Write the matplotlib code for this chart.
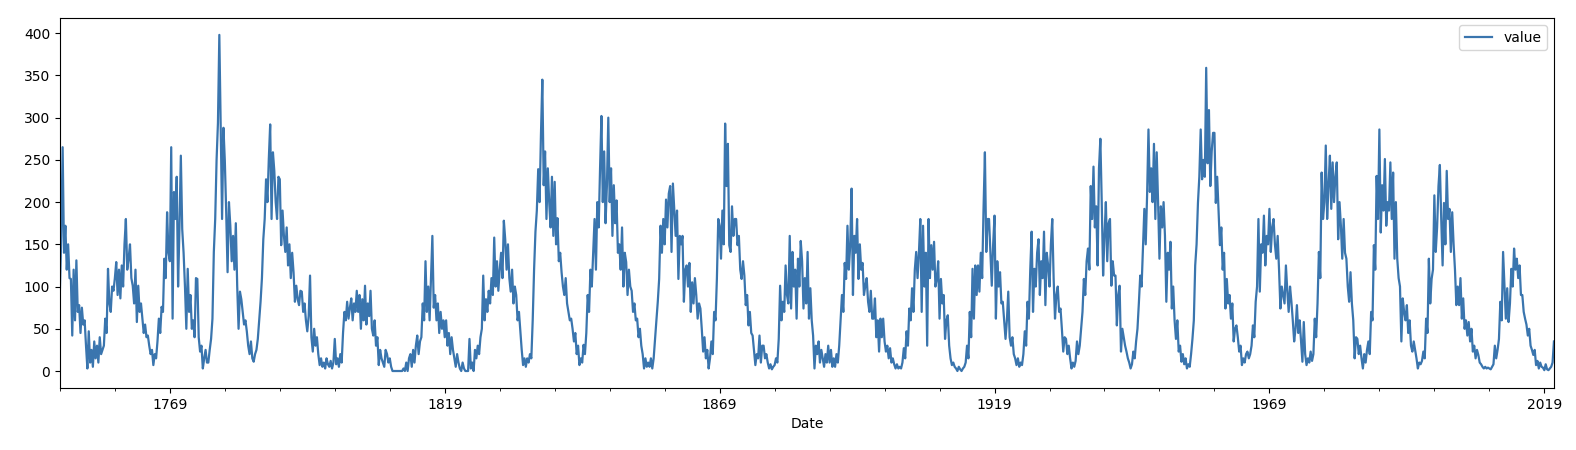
import numpy as np
import matplotlib
matplotlib.use('Agg')
import matplotlib.pyplot as plt
from matplotlib.ticker import FixedLocator

# quarterly values, one row per year (Q1..Q4)
q1749 = [
    [95, 160, 265, 140], [172, 120, 150, 110], [109, 42, 120, 60], [131, 70, 78, 45],
    [75, 55, 60, 30], [3, 47, 10, 25], [5, 35, 15, 30], [10, 40, 20, 25],
    [30, 62, 45, 121], [80, 70, 100, 95], [110, 129, 90, 120], [86, 125, 100, 150],
    [180, 120, 133, 150], [110, 101, 80, 120], [58, 101, 70, 80], [62, 45, 55, 40],
    [42, 30, 20, 25], [7, 20, 15, 35], [62, 45, 76, 70], [133, 110, 188, 140],
    [130, 265, 62, 212], [180, 230, 100, 170], [255, 168, 140, 100], [50, 121, 70, 90],
    [50, 60, 40, 110], [109, 40, 23, 30], [3, 15, 25, 10], [10, 25, 38, 62],
    [141, 180, 250, 294], [398, 286, 180, 288], [249, 188, 117, 200], [172, 130, 160, 120],
    [175, 101, 50, 94], [85, 70, 55, 60], [47, 30, 20, 35], [15, 11, 20, 25],
    [38, 60, 82, 110], [156, 180, 227, 200], [251, 292, 180, 259], [237, 200, 180, 230],
    [227, 149, 190, 160], [141, 170, 125, 150], [110, 140, 117, 82], [101, 85, 78, 95],
    [94, 70, 80, 60], [47, 65, 113, 40], [23, 50, 30, 40], [20, 7, 15, 5],
    [10, 3, 15, 8], [5, 12, 3, 10], [38, 8, 15, 5],
]
q1800 = [
    [20, 10, 45, 70], [60, 82, 62, 75], [86, 60, 80, 70], [95, 70, 90, 50],
    [85, 60, 101, 55], [80, 65, 95, 50], [42, 60, 30, 40], [7, 25, 15, 10],
    [5, 25, 20, 10], [15, 5, 0, 0], [0, 0, 0, 0], [0, 0, 3, 0],
    [10, 0, 15, 20], [5, 25, 10, 30], [42, 20, 35, 40], [80, 60, 130, 70],
    [100, 60, 110, 160], [75, 90, 60, 80], [45, 70, 50, 60], [40, 60, 30, 45],
    [20, 40, 25, 15], [5, 20, 10, 3], [0, 10, 3, 0], [0, 0, 38, 3],
    [10, 0, 25, 15], [30, 20, 40, 50], [113, 60, 85, 70], [95, 80, 110, 90],
    [158, 100, 130, 95], [120, 140, 110, 178], [156, 120, 150, 110], [94, 120, 80, 100],
    [90, 60, 70, 47], [25, 7, 15, 5], [15, 10, 20, 15], [60, 120, 165, 190],
    [239, 200, 280, 345], [220, 260, 180, 240], [200, 170, 230, 160], [224, 150, 181, 130],
    [140, 117, 100, 90], [110, 80, 70, 60], [62, 50, 35, 45], [20, 30, 7, 15],
    [10, 31, 20, 45], [90, 70, 120, 100], [140, 180, 120, 200], [170, 240, 302, 200],
    [260, 175, 220, 300], [200, 240, 160, 220],
]
q1850 = [
    [175, 202, 140, 150], [120, 170, 100, 140], [129, 90, 120, 100], [95, 70, 80, 60],
    [62, 40, 50, 30], [20, 3, 15, 5], [10, 5, 15, 3], [15, 38, 60, 82],
    [109, 172, 140, 180], [150, 203, 170, 210], [219, 141, 222, 192], [160, 190, 109, 160],
    [150, 160, 82, 120], [125, 100, 128, 70], [105, 80, 110, 90], [62, 80, 74, 50],
    [23, 40, 15, 25], [3, 15, 35, 20], [70, 60, 109, 180], [172, 133, 190, 150],
    [293, 219, 269, 149], [141, 195, 160, 180], [180, 149, 160, 120], [109, 130, 113, 78],
    [90, 54, 70, 45], [42, 25, 7, 20], [15, 42, 10, 30], [30, 15, 20, 10],
    [3, 8, 2, 5], [7, 15, 10, 38], [101, 60, 82, 70], [125, 90, 80, 160],
    [74, 141, 100, 120], [62, 133, 100, 154], [130, 74, 110, 80], [141, 62, 98, 60],
    [42, 3, 30, 20], [35, 10, 25, 15], [5, 20, 10, 30], [10, 25, 5, 15],
    [5, 20, 10, 30], [60, 90, 70, 128], [109, 172, 120, 149], [216, 90, 160, 140],
    [180, 109, 150, 120], [128, 90, 101, 110], [82, 70, 95, 62], [62, 86, 40, 60],
    [23, 62, 40, 62], [35, 23, 30, 15],
]
q1900 = [
    [27, 10, 15, 8], [3, 8, 3, 5], [3, 10, 27, 15], [47, 30, 74, 60],
    [98, 70, 120, 141], [110, 140, 180, 70], [172, 100, 140, 30], [180, 110, 149, 120],
    [153, 100, 109, 130], [62, 109, 80, 90], [38, 60, 66, 30], [15, 7, 10, 5],
    [3, 0, 5, 2], [0, 3, 5, 10], [30, 15, 70, 40], [121, 62, 125, 90],
    [125, 94, 140, 110], [192, 259, 141, 180], [180, 141, 101, 150], [184, 62, 130, 100],
    [117, 80, 82, 60], [38, 60, 94, 40], [30, 40, 20, 15], [7, 15, 5, 10],
    [7, 20, 47, 30], [82, 62, 120, 165], [70, 121, 100, 140], [156, 90, 130, 110],
    [165, 78, 140, 125], [100, 150, 180, 110], [62, 90, 100, 70], [74, 50, 23, 40],
    [38, 20, 30, 15], [3, 10, 5, 12], [35, 20, 30, 50], [70, 109, 90, 130],
    [145, 120, 219, 180], [242, 170, 195, 125], [240, 275, 200, 113], [160, 200, 130, 175],
    [180, 101, 130, 113], [113, 54, 90, 101], [23, 50, 40, 30], [23, 15, 10, 3],
    [8, 23, 15, 35], [50, 80, 113, 100], [145, 192, 150, 208], [286, 212, 240, 200],
    [269, 180, 259, 200], [133, 195, 170, 200],
]
q1950 = [
    [160, 82, 140, 120], [153, 74, 100, 60], [38, 60, 23, 30], [11, 20, 8, 15],
    [3, 8, 5, 20], [38, 60, 125, 150], [199, 230, 286, 227], [250, 230, 359, 246],
    [309, 219, 260, 282], [282, 199, 230, 190], [149, 170, 120, 140], [74, 109, 80, 90],
    [62, 80, 35, 50], [54, 40, 23, 30], [7, 15, 10, 20], [23, 15, 20, 30],
    [54, 40, 82, 100], [180, 94, 150, 140], [184, 125, 160, 150], [192, 141, 170, 180],
    [150, 133, 160, 120], [74, 100, 90, 80], [125, 95, 70, 100], [82, 60, 35, 50],
    [78, 45, 60, 35], [11, 58, 20, 7], [15, 10, 23, 12], [20, 62, 40, 80],
    [141, 110, 235, 180], [200, 267, 180, 220], [255, 192, 247, 200], [230, 247, 156, 200],
    [172, 133, 180, 140], [133, 100, 82, 117], [80, 60, 15, 40], [38, 20, 30, 15],
    [3, 20, 10, 25], [35, 20, 70, 60], [149, 120, 231, 180], [286, 164, 220, 190],
    [251, 172, 200, 190], [247, 180, 235, 133], [200, 133, 110, 100], [35, 86, 70, 60],
    [78, 45, 60, 30], [23, 35, 25, 15], [3, 10, 8, 12], [23, 15, 62, 45],
    [133, 80, 109, 120], [208, 141, 170, 219], [244, 180, 125, 199], [150, 237, 180, 192],
    [141, 188, 150, 120], [78, 100, 78, 110], [62, 86, 50, 60], [42, 58, 35, 50],
    [23, 30, 15, 25], [19, 10, 8, 5], [3, 5, 3, 4], [3, 2, 5, 8],
    [30, 15, 25, 38], [82, 60, 141, 100], [62, 98, 58, 80], [121, 100, 145, 120],
    [133, 110, 125, 90], [90, 70, 62, 55], [42, 50, 30, 25], [19, 25, 7, 12],
    [3, 10, 5, 4], [1, 8, 2, 1], [3, 5, 10, 35],
]
start_year = 1749
major_years = [1769, 1819, 1869, 1919, 1969, 2019]

value = np.concatenate([np.array(q).ravel() for q in (q1749, q1800, q1850, q1900, q1950)])
date = start_year + np.arange(len(value)) / 4.0

fig = plt.figure(figsize=(15.76, 4.5), dpi=100)
ax = fig.add_subplot(111)
fig.subplots_adjust(left=0.038, right=0.986, top=0.96, bottom=0.138)

ax.plot(date, value, color='#3a75ae', lw=1.6, label='value')
ax.set_xlim(date[0], date[-1])
ax.set_ylim(-20, 418)

ax.xaxis.set_major_locator(FixedLocator(major_years))
ax.set_xticklabels([str(y) for y in major_years])
minor = [y for y in range(start_year, 2021, 10) if y not in major_years]
ax.xaxis.set_minor_locator(FixedLocator(minor))
ax.set_xlabel('Date')
ax.legend(loc='upper right')

fig.savefig('out.png', dpi=100)
